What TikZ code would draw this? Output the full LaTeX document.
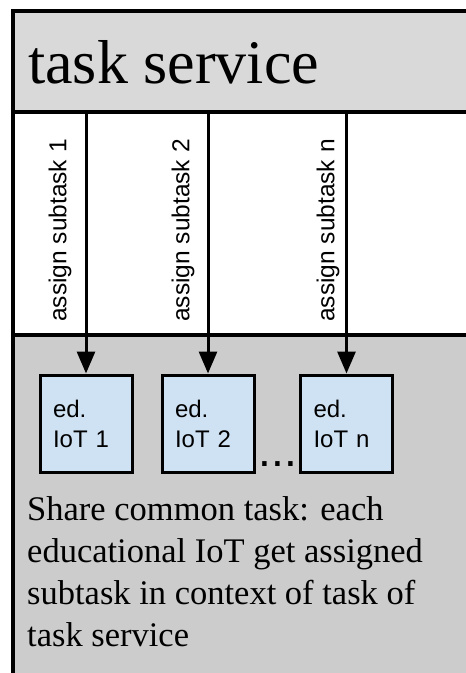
\documentclass[tikz,border=0pt]{standalone}
\usepackage{fontspec}
\setmainfont{Liberation Serif}
\setsansfont{Liberation Sans}
\usetikzlibrary{arrows.meta}
\definecolor{headgray}{HTML}{D9D9D9}
\definecolor{poolgray}{HTML}{CCCCCC}
\definecolor{devblue}{HTML}{CFE2F3}
\begin{document}
\begin{tikzpicture}[x=1pt,y=-1pt,
  frame/.style={line width=3.5pt},
  dev/.style={draw=black, fill=devblue, line width=3pt, rectangle,
    minimum height=97pt, text width=66pt, inner xsep=13pt, align=left,
    font=\sffamily\fontsize{24}{30}\selectfont},
  lbl/.style={rotate=90, anchor=west, inner sep=0pt,
    font=\sffamily\fontsize{24.5}{28}\selectfont},
  flow/.style={line width=3pt, -{Triangle[length=22pt,width=18pt]}}]
\useasboundingbox (0,0) rectangle (466,673);
\clip (0,0) rectangle (466,673);

% lower pool holding the devices
\fill[poolgray] (13,335) rectangle (480,690);
\draw[frame] (13,690) -- (13,335) -- (480,335);

% task service header
\fill[headgray] (13,11) rectangle (480,112);
\draw[frame] (480,11) -- (13,11) -- (13,112) -- (480,112);
\draw[frame] (13,112) -- (13,335);
\coordinate (svcfoot) at (13,112);
\node[anchor=base west, inner sep=0pt, font=\fontsize{62}{62}\selectfont]
  (title) at (28,83) {task service};

% educational IoT devices
\node[dev] (ed1) at (86,423.5) {ed.\\IoT 1};
\node[dev] (ed2) at (208,423.5) {ed.\\IoT 2};
\node[dev] (edn) at (346.5,423.5) {ed.\\IoT n};
\node[anchor=base, inner sep=0pt, font=\sffamily\fontsize{46}{46}\selectfont]
  (dots) at (278,466) {...};

% subtask assignments
\draw[flow] (ed1.north |- svcfoot) -- (ed1.north);
\draw[flow] (ed2.north |- svcfoot) -- (ed2.north);
\draw[flow] (edn.north |- svcfoot) -- (edn.north);
\node[lbl] (a1) at (60,322) {assign subtask 1};
\node[lbl] (a2) at (183,322) {assign subtask 2};
\node[lbl] (an) at (328,322) {assign subtask n};

% description of the shared task (anchored on its last baseline)
\node[anchor=base west, inner sep=0pt, align=left,
  font=\fontsize{34.5}{42}\selectfont] (note) at (27,646)
  {Share common task: each\\educational IoT get assigned\\subtask in context of task of\\task service};
\end{tikzpicture}
\end{document}
